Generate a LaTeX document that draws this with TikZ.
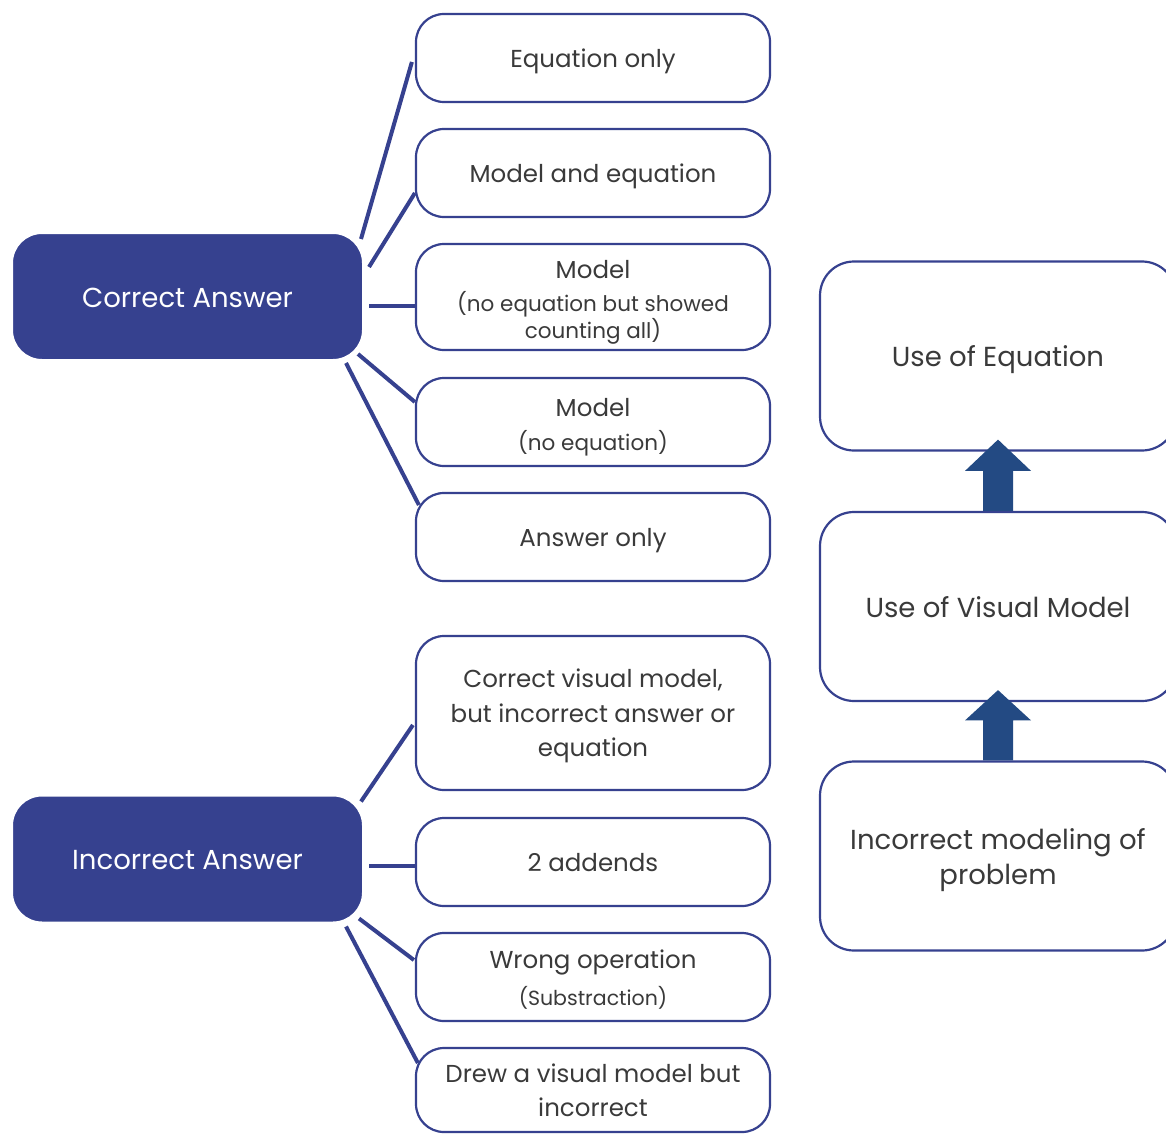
\documentclass[tikz,border=0pt]{standalone}
\usepackage{fontspec}
\setmainfont{Poppins}
\usetikzlibrary{calc}
\definecolor{navy}{HTML}{36418F}
\definecolor{arrowblue}{HTML}{234A83}
\definecolor{txt}{HTML}{3A3A3A}
\begin{document}
\begin{tikzpicture}[x=1pt,y=-1pt,
  rootbox/.style={draw=white,line width=2pt,fill=navy,rounded corners=30pt,text=white,
    minimum width=351pt,minimum height=127pt,font=\fontsize{27.5}{30}\selectfont,inner sep=0pt,
    text height=23pt,text depth=2pt},
  leafbox/.style={draw=navy,line width=2.2pt,fill=white,rounded corners=28pt,text=txt,
    minimum width=354pt,align=center,font=\fontsize{24.5}{34.5}\selectfont,inner sep=0pt,
    text depth=0pt},
  sidebox/.style={draw=navy,line width=2.2pt,fill=white,rounded corners=34pt,text=txt,
    minimum width=356pt,minimum height=189pt,align=center,font=\fontsize{27.5}{35}\selectfont,inner sep=0pt,
    text depth=0pt},
  conn/.style={draw=navy,line width=4pt},
  big/.style={text=txt,font=\fontsize{24.5}{27}\selectfont},
  small/.style={text=txt,font=\fontsize{21.5}{27}\selectfont}]
\useasboundingbox[fill=white] (0,0) rectangle (1166,1134);
% roots
\node[rootbox] (ca) at (187.5,296.5) {Correct Answer};
\node[rootbox] (ia) at (187.5,859) {Incorrect Answer};
% leaves
\node[leafbox,minimum height=88pt] (m1) at (593,58) {Equation only};
\node[leafbox,minimum height=88pt] (m2) at (593,173) {Model and equation};
\node[leafbox,minimum height=106pt] (m3) at (593,297) {};
\node[big] at (593,270) {Model};
\node[small,align=center] at (593,318) {(no equation but showed\\counting all)};
\node[leafbox,minimum height=88pt] (m4) at (593,422) {};
\node[big] at (593,408) {Model};
\node[small] at (593,443) {(no equation)};
\node[leafbox,minimum height=88pt] (m5) at (593,537) {Answer only};
\node[leafbox,minimum height=154pt] (m6) at (593,713) {Correct visual model,\\but incorrect answer or\\equation};
\node[leafbox,minimum height=88pt] (m7) at (593,862) {2 addends};
\node[leafbox,minimum height=88pt] (m8) at (593,977) {};
\node[big] at (593,962) {Wrong operation};
\node[small,font=\fontsize{20.5}{27}\selectfont] at (593,998) {(Substraction)};
\node[leafbox,minimum height=84pt] (m9) at (593,1090) {Drew a visual model but\\incorrect};
% side boxes
\node[sidebox] (r1) at (998,356) {Use of Equation};
\node[sidebox] (r2) at (998,606.5) {Use of Visual Model};
\node[sidebox] (r3) at (998,856) {Incorrect modeling of\\problem};
% connectors (correct)
\draw[conn] ($(ca.north east)+(-3,7)$) -- ($(m1.west)+(-3,4)$);
\draw[conn] ($(ca.east)+(5,-29.5)$) -- ($(m2.west)+(0,20)$);
\draw[conn] ($(ca.east)+(5,9.5)$) -- ($(m3.west)+(0,9)$);
\draw[conn] ($(ca.south east)+(-6,-7)$) -- ($(m4.west)+(0,-20)$);
\draw[conn] ($(ca.south east)+(-18,2)$) -- ($(m5.west)+(4,-32)$);
% connectors (incorrect)
\draw[conn] ($(ia.north east)+(-3,7)$) -- ($(m6.west)+(-2,12)$);
\draw[conn] ($(ia.east)+(5,7)$) -- ($(m7.west)+(0,4)$);
\draw[conn] ($(ia.south east)+(-5,-5)$) -- ($(m8.west)+(-1,-17)$);
\draw[conn] ($(ia.south east)+(-18,3)$) -- ($(m9.west)+(3,-27)$);
% block arrows
\foreach \lo/\hi in {r2/r1,r3/r2}{
  \fill[arrowblue] ($(\lo.north)+(-15,0)$) -- ($(\lo.north)+(-15,-40)$) -- ($(\lo.north)+(-33,-40)$)
    -- ($(\hi.south)+(0,-12)$) -- ($(\lo.north)+(33,-40)$) -- ($(\lo.north)+(15,-40)$)
    -- ($(\lo.north)+(15,0)$) -- cycle;
}
\end{tikzpicture}
\end{document}
